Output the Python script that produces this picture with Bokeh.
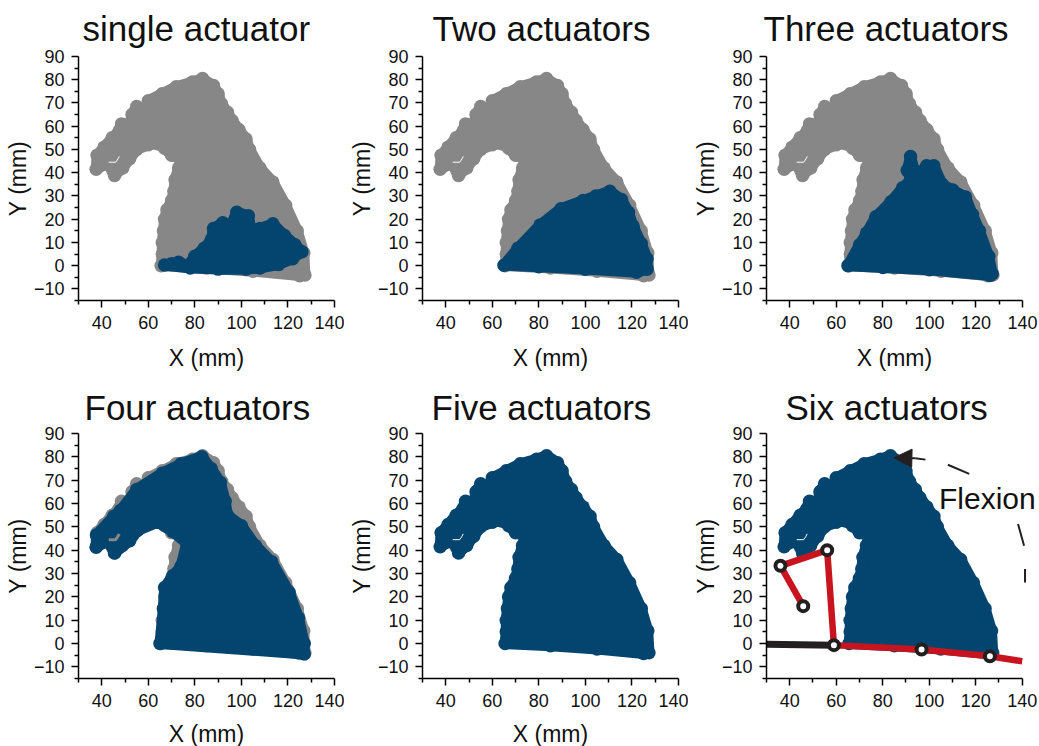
from bokeh.plotting import figure
from bokeh.layouts import column, row
from bokeh.models import FixedTicker, Label, Arrow, NormalHead, Range1d, Title, ColumnDataSource
from bokeh.embed import file_html
from bokeh.resources import INLINE

titles = ["single actuator", "Two actuators", "Three actuators",
          "Four actuators", "Five actuators", "Six actuators"]
x_ticks = [40, 60, 80, 100, 120, 140]
x_minor = [30, 50, 70, 90, 110, 130]
y_ticks = [-10, 0, 10, 20, 30, 40, 50, 60, 70, 80, 90]
y_minor = [-15, -5, 5, 15, 25, 35, 45, 55, 65, 75, 85]

# Workspace envelope, circle centres (mm)
full_x = [37.6, 38, 41, 44.5, 47.5, 48.5, 52, 53, 55, 58, 60, 66, 72, 79, 83.3, 88, 90, 91.5, 94, 96, 99, 102, 103.5,
          108, 113.5, 119, 124, 126.8, 127.3, 125, 105, 85, 65.5, 66, 66, 66.5, 67, 68, 70, 71, 71.5, 73, 74, 70, 67,
          64, 60, 55, 52, 49, 45.5, 42.5]
full_y = [41.5, 47.5, 51, 55, 58, 61, 60.5, 65, 68.5, 66.5, 71, 74, 77, 79, 80.5, 77.5, 74, 69.5, 66, 62.5, 58.5, 54.5, 50,
          42, 36, 26, 15, 5.5, -4, -4.3, -2.4, -1, 0, 5, 10, 15, 20, 24, 28, 32, 37, 42, 46, 47.5, 50.5,
          52.5, 52, 50, 46, 42, 38.8, 44]

one_x = [67, 70, 73, 77, 80, 84, 87, 88, 92, 95, 98, 103, 104, 108, 113.5, 118.5, 123, 126, 122, 116, 108, 102, 90, 78]
one_y = [0.3, 0.8, 1.5, 0, 4, 7.5, 11, 16, 18.5, 16, 23, 21.5, 16, 16, 18, 13, 9, 6, 3, 0.5, -1, -1.5, -1.5, -1]

two_x = [65, 71, 80.5, 89.5, 99, 104.5, 110.5, 115.5, 118.5, 120.5, 124, 126.5, 126.5, 122, 100, 80]
two_y = [0.2, 7.5, 17.5, 24.5, 28, 30, 32, 28.5, 23, 17, 9.5, 3, -1.5, -2.8, -1.5, -0.5]

three_x = [65, 70, 73, 77, 83.5, 88.5, 92, 90.5, 91.9, 93.5, 95, 98.8, 101.9, 105.5, 110, 115.5, 118.5, 121.5, 125.5,
           127, 126, 100, 80]
three_y = [0, 9, 14, 21, 27.5, 33.5, 37, 41, 47, 41, 39, 43, 43, 35, 32.5, 29.5, 22, 15, 4,
           -3.5, -4.2, -1.8, -0.8]

four_x = [37.6, 37.7, 45.2, 48, 55, 66, 74, 83, 87, 91, 93, 94, 100, 106, 113, 120.5, 124.5, 127, 127, 65, 66.5, 67,
          70.5, 74, 76.5, 70.5, 64, 55.5, 52, 45.5, 42.5]
four_y = [41.3, 46.5, 54.5, 57, 66, 73, 77, 80, 75, 69, 61, 55, 50.5, 42, 35, 22, 11, 0, -4.5, 0, 15, 24,
          29, 33, 43, 48, 52, 48.5, 44, 38.8, 44]

slit_x = [43, 46, 47, 47.5]
slit_y = [44.5, 44.5, 46, 47]

link_black_x = [30, 59]
link_black_y = [-0.3, -0.7]
link_red_x = [45.8, 36, 56.1, 59, 96.7, 126.1, 140]
link_red_y = [16, 33.3, 40, -0.7, -2.6, -5.5, -7.6]
joint_x = [45.8, 36, 56.1, 59, 96.7, 126.1]
joint_y = [16, 33.3, 40, -0.7, -2.6, -5.5]

dash_x0 = [94, 108, 138.2, 141.2]
dash_y0 = [79.4, 76.6, 51.2, 31.9]
dash_x1 = [98.4, 117.2, 140.8, 141.2]
dash_y1 = [78.8, 72.7, 41.9, 26.1]

arrow_tail = (94, 79.4)
arrow_tip = (84.8, 79.6)

GRAY = "#878787"
BLUE = "#03456f"
RED = "#c8141e"
DARK = "#231f20"
FONT = "Liberation Sans"


def region(p, xs, ys, color):
    p.patch(xs, ys, fill_color=color, line_color=color, line_width=11, line_join="round")
    p.scatter(xs, ys, size=13.5, marker="circle", color=color, line_width=0)


def panel(title, offset, left, right, top, fh, bottom, title_standoff, xlabel_standoff, x_end=140):
    fw = round(256 * (x_end - 30) / 110)
    p = figure(width=left + fw + right, height=top + fh + bottom, frame_width=fw, frame_height=fh,
               x_range=Range1d(30, x_end), y_range=Range1d(-15, 90),
               toolbar_location=None, output_backend="svg",
               min_border_left=left, min_border_right=right, min_border_top=top, min_border_bottom=bottom)
    p.grid.visible = False
    p.outline_line_color = None
    p.add_layout(Title(text=title, text_font=FONT, text_font_size="35px", text_font_style="normal",
                       text_color="#111111", align="left", vertical_align="top", offset=offset,
                       standoff=title_standoff), "above")
    for ax, major, minor, lab in ((p.xaxis[0], x_ticks, x_minor, "X (mm)"), (p.yaxis[0], y_ticks, y_minor, "Y (mm)")):
        ax.ticker = FixedTicker(ticks=major, minor_ticks=minor)
        ax.axis_label = lab
        ax.axis_label_text_font = FONT
        ax.axis_label_text_font_size = "23px"
        ax.axis_label_text_font_style = "normal"
        ax.axis_label_text_color = "#111111"
        ax.major_label_text_font = FONT
        ax.major_label_text_font_size = "18px"
        ax.major_label_text_color = "#111111"
        ax.axis_line_color = "black"
        ax.axis_line_width = 1.5
        ax.major_tick_line_color = "black"
        ax.major_tick_line_width = 1.5
        ax.minor_tick_line_color = "black"
        ax.minor_tick_line_width = 1.5
        ax.major_tick_out = 7
        ax.major_tick_in = 0
        ax.minor_tick_out = 4
        ax.minor_tick_in = 0
    p.xaxis[0].bounds = (30, 140)
    p.xaxis[0].major_label_standoff = 8
    p.xaxis[0].axis_label_standoff = xlabel_standoff
    p.yaxis[0].major_label_standoff = 7
    p.yaxis[0].axis_label_standoff = 0
    return p


L, R = 78, 10
p1 = panel(titles[0], 4, L, R, 56, 244, 81, 13, 13)
p2 = panel(titles[1], 10, L, R, 56, 244, 81, 13, 13)
p3 = panel(titles[2], -3, L, 17, 56, 244, 81, 13, 13)
p4 = panel(titles[3], 6, L, R, 52, 245, 68, 9, 11)
p5 = panel(titles[4], 9, L, R, 52, 245, 68, 9, 11)
p6 = panel(titles[5], 19, L, 1, 52, 245, 68, 9, 11, x_end=147)
p6.xaxis[0].axis_label = None
p6.add_layout(Label(x=85, y=-15, text="X (mm)", text_font=FONT, text_font_size="23px", text_align="center",
                    text_baseline="middle", text_color="#111111", y_offset=-55))

blues = {0: (one_x, one_y), 1: (two_x, two_y), 2: (three_x, three_y), 3: (four_x, four_y),
         4: (full_x, full_y), 5: (full_x, full_y)}
for i, p in enumerate([p1, p2, p3, p4, p5, p6]):
    if i < 4:
        region(p, full_x, full_y, GRAY)
    region(p, *blues[i], BLUE)
    slit_col = "white"
    if i == 3:
        slit_col = GRAY
    p.line(slit_x, slit_y, line_color=slit_col, line_width=3 if i == 3 else 1)

p6.line(link_black_x, link_black_y, line_color=DARK, line_width=7)
p6.line(link_red_x, link_red_y, line_color=RED, line_width=6.5, line_join="miter")
p6.scatter(joint_x, joint_y, size=10, marker="circle", fill_color="white", line_color=DARK, line_width=4)

dashes = ColumnDataSource(dict(x0=dash_x0, y0=dash_y0, x1=dash_x1, y1=dash_y1))
p6.add_layout(Arrow(end=None, source=dashes, x_start="x0", y_start="y0", x_end="x1", y_end="y1",
                    line_color=DARK, line_width=2))
p6.add_layout(Arrow(end=NormalHead(size=18, fill_color=DARK, line_color=DARK),
                    x_start=arrow_tail[0], y_start=arrow_tail[1], x_end=arrow_tip[0], y_end=arrow_tip[1],
                    line_color=DARK, line_width=2))
p6.add_layout(Label(x=125, y=62, text="Flexion", text_font=FONT, text_font_size="30px",
                    text_align="center", text_baseline="middle", text_color="#111111"))

page = column(row(p1, p2, p3, spacing=0), row(p4, p5, p6, spacing=0), spacing=0)
open("out.html", "w").write(file_html(page, INLINE))
